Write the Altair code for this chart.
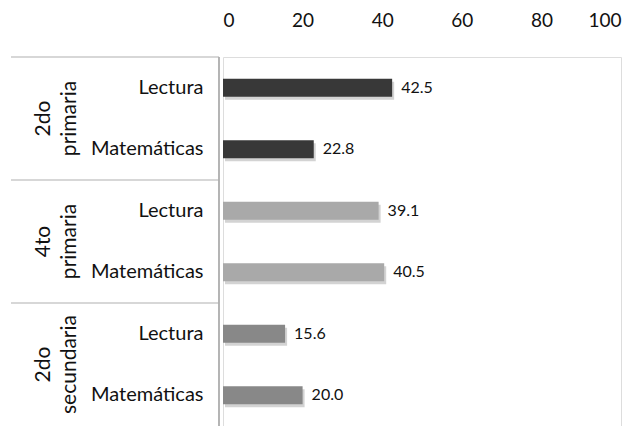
import altair as alt
import pandas as pd

groups = ["2do\nprimaria", "2do\nprimaria", "4to\nprimaria", "4to\nprimaria", "2do\nsecundaria", "2do\nsecundaria"]
subjects = ["Lectura", "Matemáticas", "Lectura", "Matemáticas", "Lectura", "Matemáticas"]
values = [42.5, 22.8, 39.1, 40.5, 15.6, 20.0]
colors = ["#383838", "#383838", "#a9a9a9", "#a9a9a9", "#888888", "#888888"]
group_labels = ["2do\nprimaria", "4to\nprimaria", "2do\nsecundaria"]
group_centers = [1, 3, 5]
separators = [0, 2, 4]
x_ticks = [0, 20, 40, 60, 80, 100]

rows = [f"{i}|{s}" for i, s in enumerate(subjects)]
df = pd.DataFrame({"row": rows, "subject": subjects, "value": values, "color": colors})
gdf = pd.DataFrame({"label": group_labels, "pos": group_centers})
sdf = pd.DataFrame({"pos": separators})

FONT = "Lato"
W, H = 398, 369

yscale = alt.Scale(domain=rows, paddingInner=0, paddingOuter=0)

shadow = alt.Chart(df).mark_bar(size=18, color="#c8c8c8", opacity=0.8, xOffset=2, yOffset=3).encode(
    x=alt.X("value:Q", scale=alt.Scale(domain=[0, 100])),
    y=alt.Y("row:N", scale=yscale, axis=None),
)

bars = alt.Chart(df).mark_bar(size=18).encode(
    x=alt.X("value:Q", scale=alt.Scale(domain=[0, 100]),
            axis=alt.Axis(orient="top", values=x_ticks, title=None, domain=False, ticks=False,
                          grid=False, labelFontSize=19, labelFont=FONT, labelColor="#111",
                          labelPadding=27)),
    y=alt.Y("row:N", scale=yscale,
            axis=alt.Axis(title=None, domain=False, ticks=False, labelFontSize=20, labelFont=FONT,
                          labelColor="#111", labelPadding=20,
                          labelExpr="split(datum.label, '|')[1]")),
    color=alt.Color("color:N", scale=None),
)

vals = alt.Chart(df).mark_text(align="left", dx=9, fontSize=16, font=FONT, color="#111").encode(
    x=alt.X("value:Q", scale=alt.Scale(domain=[0, 100])),
    y=alt.Y("row:N", scale=yscale, axis=None),
    text=alt.Text("value:Q", format=".1f"),
)

qscale = alt.Scale(domain=[0, 6], reverse=True, nice=False, zero=False)

glabels = alt.Chart(gdf).mark_text(angle=270, lineBreak="\n", fontSize=21, font=FONT, color="#111",
                                   lineHeight=26).encode(
    x=alt.value(-179),
    y=alt.Y("pos:Q", scale=qscale, axis=None),
    text="label:N",
)

seps = alt.Chart(sdf).mark_rule(color="#b0b0b0", strokeWidth=1.2).encode(
    x=alt.value(-212),
    x2=alt.value(-4),
    y=alt.Y("pos:Q", scale=qscale, axis=None),
)

vline = alt.Chart(sdf).mark_rule(color="#b0b0b0", strokeWidth=1.2).encode(
    x=alt.value(-4),
    y=alt.value(0),
    y2=alt.value(H),
)

chart = alt.layer(shadow, bars, vals, glabels, seps, vline).resolve_scale(y="independent").properties(
    width=W, height=H,
    autosize=alt.AutoSizeParams(type="none"),
    padding={"left": 215, "top": 49, "right": 13, "bottom": 0},
).configure_view(stroke=None).configure(background="white")

chart.save("out.html", embed_options={"renderer": "svg", "actions": False})
